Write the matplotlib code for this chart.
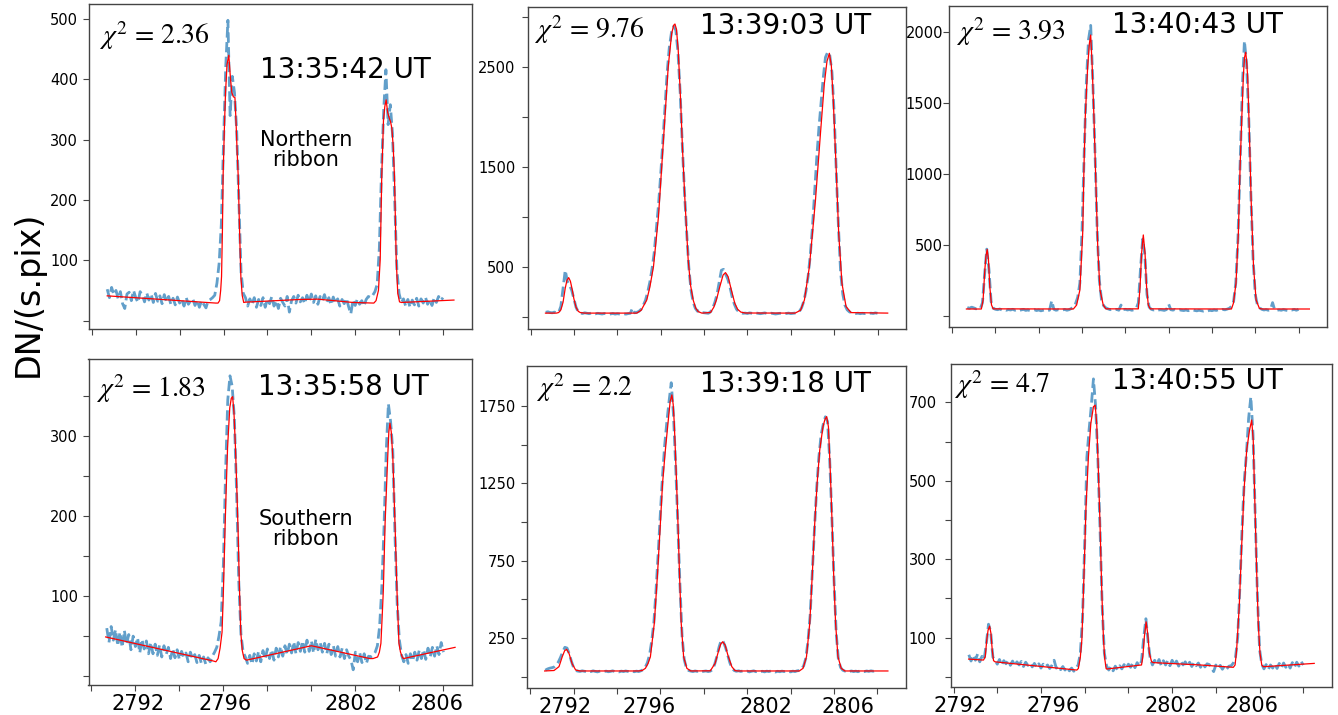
import numpy as np
import matplotlib.pyplot as plt

plt.rcParams['mathtext.fontset'] = 'stix'

W, H = 1338, 715

# observed spectra: one value every 0.1 A from 2790.7 to 2806.0
wl_obs = np.round(np.arange(2790.7, 2806.05, 0.1), 1)

times = ['13:35:42 UT', '13:39:03 UT', '13:40:43 UT',
         '13:35:58 UT', '13:39:18 UT', '13:40:55 UT']
chi2 = ['2.36', '9.76', '3.93', '1.83', '2.2', '4.7']
ribbons = ['Northern\nribbon', None, None, 'Southern\nribbon', None, None]
xlabels = ['2792', '2796', '2802', '2806']

# ---- panel 1 : northern ribbon, 13:35:42
obs_1 = [52, 38, 55, 43, 50, 36, 48, 28, 20, 44,
         47, 33, 50, 38, 30, 48, 42, 31, 46, 34,
         44, 30, 45, 32, 41, 28, 43, 31, 40, 27,
         37, 26, 39, 29, 35, 24, 38, 27, 33, 36,
         25, 34, 22, 33, 27, 21, 33, 35, 38, 42,
         62, 95, 160, 294, 420, 498, 340, 405, 378, 315,
         200, 80, 45, 38, 24, 36, 27, 38, 22, 35,
         25, 38, 22, 36, 28, 40, 24, 33, 20, 37,
         30, 24, 40, 14, 33, 40, 29, 42, 31, 38,
         28, 42, 31, 44, 30, 41, 27, 40, 33, 43,
         30, 38, 26, 39, 29, 36, 24, 35, 28, 37,
         23, 11, 34, 25, 36, 27, 33, 24, 35, 40,
         38, 42, 48, 60, 120, 250, 350, 416, 325, 358,
         310, 200, 84, 45, 30, 36, 24, 35, 22, 34,
         26, 37, 24, 36, 29, 39, 27, 35, 25, 38,
         30, 40, 33, 38]
fit_wl_1 = [2790.7, 2795.65, 2795.75, 2795.82, 2795.87, 2795.91, 2795.95, 2795.98,
            2796.04, 2796.09, 2796.16, 2796.24, 2796.32, 2796.38, 2796.45, 2796.52,
            2796.57, 2796.62, 2796.67, 2796.73, 2796.79, 2796.85, 2796.92, 2797.0,
            2799.5, 2800.3, 2801.9, 2802.85, 2802.95, 2803.06, 2803.14, 2803.21,
            2803.29, 2803.35, 2803.41, 2803.48, 2803.55, 2803.61, 2803.67, 2803.73,
            2803.79, 2803.87, 2803.94, 2804.02, 2804.1, 2806.5]
fit_1 = [41, 29, 29, 33, 50, 73, 150, 239,
         320, 377, 425, 440, 400, 378, 371, 370,
         330, 280, 239, 150, 73, 42, 30, 30.5,
         35, 35.5, 30, 29, 33, 50, 101, 239,
         333, 355, 366, 345, 336, 330, 319, 290,
         239, 101, 45, 31, 30, 34]

# ---- panel 2 : 13:39:03
obs_2 = [50, 55, 48, 45, 52, 44, 50, 110, 290, 470,
         360, 320, 270, 185, 100, 55, 42, 38, 45, 40,
         36, 42, 38, 35, 40, 37, 33, 38, 35, 30,
         34, 38, 32, 36, 33, 30, 35, 32, 37, 40,
         90, 45, 50, 60, 80, 120, 170, 250, 350, 480,
         640, 880, 1120, 1420, 1750, 2100, 2450, 2700, 2850, 2910,
         2870, 2650, 2250, 1720, 1250, 850, 500, 270, 150, 90,
         60, 70, 48, 45, 42, 40, 55, 90, 150, 230,
         350, 470, 480, 430, 380, 300, 200, 130, 80, 55,
         45, 40, 42, 38, 44, 40, 37, 43, 39, 36,
         40, 44, 38, 35, 41, 37, 33, 36, 40, 38,
         35, 39, 42, 37, 40, 44, 45, 60, 95, 160,
         260, 410, 620, 900, 1250, 1600, 1900, 2150, 2400, 2600,
         2650, 2620, 2450, 2050, 1450, 900, 450, 230, 120, 75,
         55, 45, 42, 38, 41, 36, 40, 37, 43, 39,
         41, 38, 44, 40]
fit_wl_2 = [2790.69, 2791.2, 2791.3, 2791.4, 2791.5, 2791.6, 2791.68, 2791.76,
            2791.84, 2791.92, 2792.0, 2792.1, 2792.2, 2792.3, 2792.5, 2794.9,
            2795.1, 2795.36, 2795.5, 2795.67, 2795.9, 2796.05, 2796.2, 2796.35,
            2796.51, 2796.6, 2796.66, 2796.73, 2796.81, 2796.92, 2797.01, 2797.12,
            2797.27, 2797.38, 2797.5, 2797.62, 2797.73, 2797.9, 2798.3, 2798.45,
            2798.57, 2798.73, 2798.88, 2798.99, 2799.11, 2799.26, 2799.42, 2799.55,
            2799.7, 2799.9, 2802.2, 2802.45, 2802.63, 2802.86, 2803.14, 2803.37,
            2803.55, 2803.67, 2803.78, 2803.87, 2803.96, 2804.09, 2804.21, 2804.36,
            2804.55, 2804.78, 2806.47]
fit_2 = [42, 42, 48, 75, 150, 290, 370, 397,
         360, 280, 185, 100, 60, 47, 42, 42,
         70, 173, 300, 507, 1007, 1507, 2007, 2507,
         2840, 2920, 2933, 2880, 2673, 2173, 1673, 1173,
         573, 320, 173, 90, 57, 42, 48, 100,
         173, 307, 423, 447, 407, 273, 140, 80,
         52, 43, 42, 70, 173, 507, 1173, 1840,
         2340, 2560, 2640, 2520, 2173, 1507, 840, 340,
         107, 47, 42]

# ---- panel 3 : 13:40:43
obs_3 = [58, 52, 60, 55, 48, 53, 50, 90, 290, 470,
         330, 100, 52, 45, 42, 47, 40, 44, 38, 43,
         40, 45, 38, 42, 36, 41, 44, 37, 40, 35,
         39, 42, 36, 40, 34, 38, 41, 35, 39, 105,
         45, 38, 42, 36, 40, 44, 38, 42, 50, 60,
         85, 130, 230, 600, 1150, 1650, 1950, 2050, 1650, 1150,
         600, 250, 110, 70, 55, 48, 42, 45, 40, 44,
         38, 75, 42, 45, 40, 43, 38, 42, 50, 90,
         330, 540, 430, 150, 60, 45, 40, 44, 38, 42,
         40, 37, 43, 82, 42, 39, 44, 37, 41, 38,
         36, 40, 35, 39, 42, 37, 34, 38, 35, 32,
         36, 33, 38, 35, 40, 37, 42, 38, 44, 41,
         46, 52, 65, 100, 230, 540, 1080, 1600, 1940, 1780,
         1400, 850, 400, 150, 75, 55, 45, 40, 43, 38,
         42, 92, 40, 37, 41, 38, 43, 39, 36, 42,
         40, 44, 38, 45]
fit_wl_3 = [2790.66, 2791.35, 2791.43, 2791.51, 2791.56, 2791.62, 2791.68, 2791.74,
            2791.82, 2791.9, 2795.6, 2795.75, 2795.9, 2796.03, 2796.09, 2796.15,
            2796.26, 2796.34, 2796.4, 2796.47, 2796.55, 2796.64, 2796.73, 2796.83,
            2796.98, 2797.1, 2798.6, 2798.68, 2798.75, 2798.83, 2798.91, 2798.98,
            2799.06, 2799.15, 2802.9, 2802.99, 2803.11, 2803.22, 2803.3, 2803.38,
            2803.45, 2803.5, 2803.56, 2803.6, 2803.65, 2803.73, 2803.81, 2803.92,
            2804.04, 2804.19, 2804.3, 2806.5]
fit_3 = [47, 47, 110, 322, 417, 468, 393, 205,
         75, 48, 47, 75, 181, 581, 1052, 1405,
         1758, 1923, 1982, 1758, 1405, 935, 464, 181,
         75, 48, 48, 205, 440, 570, 440, 205,
         75, 48, 47, 87, 228, 581, 1052, 1405,
         1688, 1820, 1860, 1800, 1688, 1288, 817, 346,
         110, 52, 47, 47]

# ---- panel 4 : southern ribbon, 13:35:58
obs_4 = [60, 42, 62, 45, 58, 38, 55, 36, 57, 40,
         52, 33, 50, 37, 48, 29, 46, 34, 44, 28,
         42, 28, 40, 26, 39, 24, 38, 27, 36, 22,
         34, 23, 33, 21, 31, 24, 29, 18, 30, 22,
         27, 17, 26, 16, 24, 15, 23, 18, 25, 30,
         36, 50, 68, 140, 255, 345, 375, 362, 322, 230,
         118, 52, 30, 24, 16, 26, 15, 28, 19, 31,
         18, 32, 21, 34, 22, 33, 20, 35, 24, 37,
         25, 38, 27, 40, 29, 43, 28, 42, 31, 44,
         30, 45, 31, 44, 29, 46, 33, 42, 30, 41,
         28, 40, 27, 38, 25, 37, 24, 35, 22, 33,
         25, 20, 8, 30, 18, 29, 17, 28, 16, 25,
         24, 26, 30, 38, 62, 110, 185, 280, 340, 318,
         282, 175, 90, 45, 26, 18, 27, 16, 28, 19,
         30, 20, 32, 22, 33, 21, 35, 24, 36, 25,
         38, 27, 42, 30]
fit_wl_4 = [2790.65, 2795.54, 2795.66, 2795.76, 2795.85, 2795.94, 2796.0, 2796.07,
            2796.13, 2796.19, 2796.29, 2796.36, 2796.42, 2796.48, 2796.55, 2796.61,
            2796.67, 2796.73, 2796.79, 2796.86, 2796.94, 2797.05, 2800.0, 2802.66,
            2802.8, 2803.01, 2803.09, 2803.16, 2803.21, 2803.27, 2803.35, 2803.47,
            2803.52, 2803.57, 2803.63, 2803.7, 2803.8, 2803.89, 2803.94, 2803.98,
            2804.05, 2804.13, 2804.18, 2806.53]
fit_4 = [49, 19, 18, 22, 35, 55, 105, 180,
         235, 285, 335, 347, 349, 330, 285, 235,
         180, 110, 55, 32, 22, 20, 38, 22,
         22, 24, 30, 41, 70, 107, 191, 274,
         305, 316, 305, 274, 191, 107, 70, 41,
         30, 24, 22, 36]

# ---- panel 5 : 13:39:18
obs_5 = [42, 50, 55, 58, 62, 75, 95, 125, 160, 190,
         185, 150, 100, 60, 40, 36, 34, 38, 35, 32,
         36, 33, 38, 34, 31, 35, 37, 33, 36, 32,
         34, 38, 33, 35, 31, 36, 33, 37, 34, 30,
         35, 32, 36, 33, 38, 45, 60, 90, 140, 230,
         350, 560, 800, 1060, 1300, 1500, 1650, 1780, 1900, 1700,
         1380, 1000, 600, 260, 110, 55, 40, 36, 33, 37,
         34, 38, 32, 35, 37, 33, 36, 45, 80, 130,
         190, 235, 225, 190, 140, 90, 55, 40, 35, 38,
         34, 37, 33, 36, 31, 35, 38, 32, 36, 33,
         35, 31, 36, 33, 38, 34, 30, 35, 32, 36,
         33, 37, 34, 31, 36, 33, 38, 40, 50, 70,
         120, 230, 400, 680, 960, 1220, 1420, 1560, 1630, 1680,
         1650, 1400, 1030, 620, 280, 110, 60, 42, 36, 39,
         34, 37, 33, 36, 32, 38, 35, 33, 37, 34,
         38, 35, 40, 37]
fit_wl_5 = [2790.67, 2791.1, 2791.33, 2791.48, 2791.59, 2791.68, 2791.79, 2791.94,
            2792.1, 2792.3, 2795.0, 2795.16, 2795.31, 2795.43, 2795.54, 2795.72,
            2795.87, 2796.0, 2796.1, 2796.23, 2796.38, 2796.45, 2796.53, 2796.59,
            2796.64, 2796.73, 2796.81, 2796.88, 2796.96, 2797.07, 2797.22, 2797.4,
            2798.3, 2798.52, 2798.67, 2798.78, 2798.87, 2798.98, 2799.13, 2799.29,
            2799.44, 2799.6, 2802.4, 2802.57, 2802.73, 2802.88, 2803.0, 2803.11,
            2803.22, 2803.34, 2803.49, 2803.58, 2803.66, 2803.74, 2803.83, 2803.91,
            2803.98, 2804.07, 2804.18, 2804.33, 2804.5, 2806.48]
fit_5 = [37, 40, 65, 129, 168, 177, 151, 82,
         43, 37, 37, 40, 54, 85, 129, 345,
         668, 991, 1250, 1465, 1681, 1778, 1821, 1760,
         1638, 1314, 991, 668, 345, 129, 54, 37,
         38, 86, 162, 211, 226, 205, 129, 65,
         39, 37, 37, 54, 129, 345, 668, 991,
         1250, 1465, 1616, 1663, 1681, 1616, 1314, 991,
         668, 345, 129, 54, 37, 37]

# ---- panel 6 : 13:40:55
obs_6 = [56, 40, 55, 42, 58, 38, 52, 44, 85, 134,
         115, 50, 42, 32, 44, 30, 41, 33, 42, 29,
         40, 28, 38, 30, 39, 26, 37, 29, 35, 25,
         34, 24, 33, 22, 32, 25, 30, 21, 29, 42,
         22, 27, 18, 26, 17, 24, 15, 22, 14, 22,
         30, 60, 150, 340, 560, 630, 690, 760, 690, 560,
         380, 180, 60, 28, 17, 26, 15, 27, 18, 28,
         20, 31, 22, 32, 24, 35, 23, 36, 27, 40,
         100, 148, 90, 45, 30, 42, 31, 44, 29, 41,
         30, 41, 28, 42, 29, 40, 27, 39, 30, 38,
         27, 37, 26, 36, 28, 35, 24, 34, 25, 33,
         31, 22, 13, 30, 21, 29, 19, 28, 20, 27,
         28, 35, 50, 100, 230, 380, 500, 570, 660, 714,
         620, 420, 210, 70, 32, 20, 31, 19, 30, 22,
         33, 21, 34, 23, 35, 24, 33, 22, 36, 25,
         37, 27, 39, 30]
fit_wl_6 = [2790.69, 2791.37, 2791.45, 2791.52, 2791.58, 2791.65, 2791.71, 2791.77,
            2791.83, 2791.9, 2795.64, 2795.71, 2795.8, 2795.87, 2795.97, 2796.06,
            2796.17, 2796.28, 2796.4, 2796.48, 2796.55, 2796.63, 2796.7, 2796.78,
            2796.86, 2796.92, 2796.98, 2797.0, 2798.6, 2798.66, 2798.73, 2798.81,
            2798.88, 2798.96, 2799.06, 2799.14, 2801.28, 2802.8, 2802.88, 2802.95,
            2803.07, 2803.18, 2803.29, 2803.41, 2803.54, 2803.64, 2803.71, 2803.79,
            2803.87, 2803.94, 2804.02, 2804.1, 2804.17, 2806.5]
fit_6 = [45, 42.5, 51, 94, 119, 129, 111, 68,
         41, 38, 17, 21, 50, 94, 264, 434,
         561, 646, 689, 693, 646, 519, 391, 221,
         94, 45, 21, 19.6, 30, 51, 102, 140,
         111, 60, 38, 36, 30, 24, 30, 68,
         179, 332, 476, 578, 629, 655, 604, 434,
         264, 136, 60, 30, 25.5, 34]

# y ticks (every mark) and which of them carry a label
yticks = [np.arange(0, 501, 100), np.arange(0, 3001, 500), np.arange(0, 2001, 500),
          np.arange(0, 351, 50), np.arange(0, 1751, 250), np.arange(0, 701, 100)]
ylab_show = [[100, 200, 300, 400, 500], [500, 1500, 2500], [500, 1000, 1500, 2000],
             [100, 200, 300], [250, 750, 1250, 1750], [100, 300, 500, 700]]

panels = [
    dict(obs=obs_1, fwl=fit_wl_1, fit=fit_1, ylim=(-14, 525), box=(89, 4, 471.5, 329),
         pad=3.2, chi=(99, 44), tim=(260, 78), rib=(306, 150), xlab=None),
    dict(obs=obs_2, fwl=fit_wl_2, fit=fit_2, ylim=(-120, 3100), box=(527.7, 7.3, 905.7, 329.3),
         pad=4.5, chi=(534, 38), tim=(700, 34), rib=None, xlab=None),
    dict(obs=obs_3, fwl=fit_wl_3, fit=fit_3, ylim=(-78, 2189), box=(949.3, 5.7, 1326.7, 326.7),
         pad=0.0, chi=(956, 40), tim=(1112, 33), rib=None, xlab=None),
    dict(obs=obs_4, fwl=fit_wl_4, fit=fit_4, ylim=(-11, 396), box=(88.5, 359, 472, 685),
         pad=3.0, chi=(96, 397), tim=(258, 395), rib=(306, 529),
         xlab=[2792.14, 2796.08, 2801.8, 2805.7]),
    dict(obs=obs_5, fwl=fit_wl_5, fit=fit_5, ylim=(-75, 2008), box=(527.3, 366, 905.7, 688.3),
         pad=4.0, chi=(536, 396), tim=(700, 391.5), rib=None,
         xlab=[2791.59, 2795.46, 2800.88, 2804.63]),
    dict(obs=obs_6, fwl=fit_wl_6, fit=fit_6, ylim=(-27, 798), box=(950.7, 364, 1331.7, 687.3),
         pad=5.5, chi=(954, 393), tim=(1112, 389), rib=None,
         xlab=[2790.32, 2794.55, 2799.95, 2803.65]),
]

frame = '#444444'

fig = plt.figure(figsize=(W / 100, H / 100), dpi=100)

for i, p in enumerate(panels):
    l, t, r, b = p['box']
    ax = fig.add_axes([l / W, 1 - b / H, (r - l) / W, (b - t) / H])

    ax.plot(wl_obs, p['obs'], color='#1f77b4', ls='--', lw=2.0, alpha=0.7)
    ax.plot(p['fwl'], p['fit'], color='red', lw=0.9)

    ax.set_xlim(2789.87, 2807.3)
    ax.set_ylim(p['ylim'])

    labs = [str(v) if v in ylab_show[i] else '' for v in yticks[i]]
    ax.set_yticks(yticks[i], labs)
    ax.set_xticks(np.arange(2790, 2807, 2), [])
    ax.tick_params(axis='both', which='major', length=4.5, width=0.8, color=frame)
    ax.tick_params(axis='y', labelsize=10.5, pad=p['pad'])
    if p['xlab'] is not None:
        ax.set_xticks(p['xlab'], xlabels, minor=True)
        ax.tick_params(axis='x', which='minor', length=0, labelsize=15, pad=6.5)

    for s in ax.spines.values():
        s.set_color(frame)
        s.set_linewidth(1.0)

    fig.text(p['chi'][0] / W, 1 - p['chi'][1] / H, r'$\chi^2$ = ' + chi2[i],
             family='STIXGeneral', fontsize=20, ha='left', va='baseline')
    fig.text(p['tim'][0] / W, 1 - p['tim'][1] / H, times[i],
             fontsize=20, ha='left', va='baseline')
    if p['rib'] is not None:
        fig.text(p['rib'][0] / W, 1 - p['rib'][1] / H, ribbons[i],
                 fontsize=15, ha='center', va='center', multialignment='center',
                 linespacing=1.0)

fig.text(28 / W, 1 - 294 / H, 'DN/(s.pix)', rotation=90, fontsize=24,
         ha='center', va='center')

fig.savefig('out.png', dpi=100)
